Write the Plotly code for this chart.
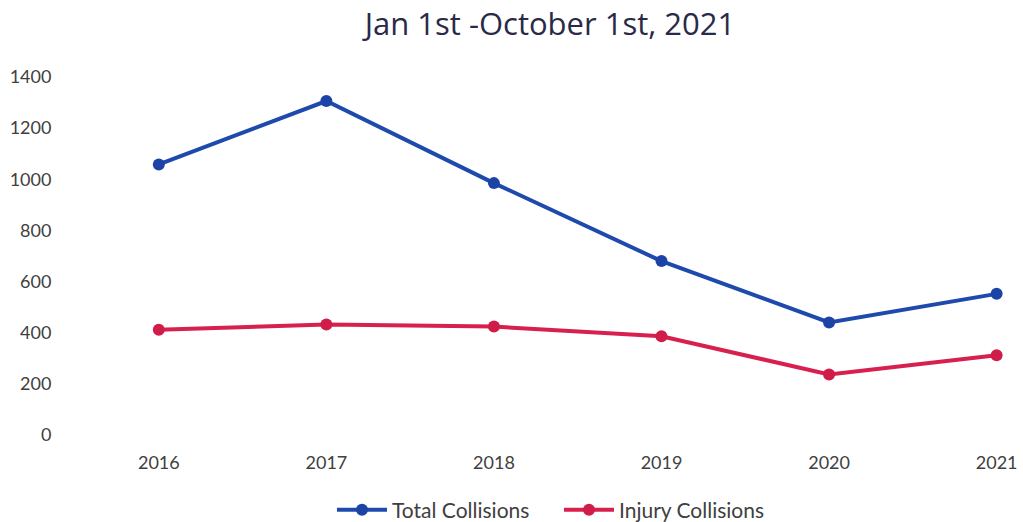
import plotly.graph_objects as go

years = [2016, 2017, 2018, 2019, 2020, 2021]
total_collisions = [1058, 1306, 985, 680, 440, 552]
injury_collisions = [412, 432, 424, 386, 237, 312]
y_ticks = [0, 200, 400, 600, 800, 1000, 1200, 1400]

FONT = "Lato, 'Open Sans', sans-serif"

fig = go.Figure()
fig.add_trace(go.Scatter(
    x=years, y=total_collisions, name="Total Collisions",
    mode="lines+markers",
    line=dict(color="#1e4aae", width=4),
    marker=dict(color="#1c43a6", size=12),
    cliponaxis=False,
))
fig.add_trace(go.Scatter(
    x=years, y=injury_collisions, name="Injury Collisions",
    mode="lines+markers",
    line=dict(color="#d8204f", width=4),
    marker=dict(color="#d01c48", size=12),
    cliponaxis=False,
))

fig.update_layout(
    width=1023, height=522,
    margin=dict(l=70, r=18, t=77, b=87, autoexpand=False),
    paper_bgcolor="white", plot_bgcolor="white",
    font=dict(family=FONT, color="#404040", size=16),
    title=dict(
        text="Jan 1st -October 1st, 2021",
        x=550 / 1023, xanchor="center",
        y=1 - 24 / 522, yanchor="middle",
        font=dict(family="'Open Sans', sans-serif", size=31, color="#2a2a48"),
    ),
    xaxis=dict(
        range=[2015.47, 2021.05],
        tickmode="array", tickvals=years, ticktext=[str(y) for y in years],
        showgrid=False, zeroline=False, showline=False,
        ticks="outside", ticklen=11, tickcolor="rgba(0,0,0,0)",
        tickfont=dict(size=18, color="#404040"),
    ),
    yaxis=dict(
        range=[0, 1400],
        tickmode="array", tickvals=y_ticks,
        showgrid=False, zeroline=False, showline=False,
        ticks="outside", ticklen=14, tickcolor="rgba(0,0,0,0)",
        tickfont=dict(size=18, color="#404040"),
    ),
    legend=dict(
        orientation="h", x=(559 - 70) / 935, xanchor="center",
        y=-(510 - 435) / 358, yanchor="middle",
        font=dict(size=21, color="#404040"),
        itemwidth=50,
        entrywidth=162, entrywidthmode="pixels",
    ),
    showlegend=True,
)

fig.write_html("out.html")
